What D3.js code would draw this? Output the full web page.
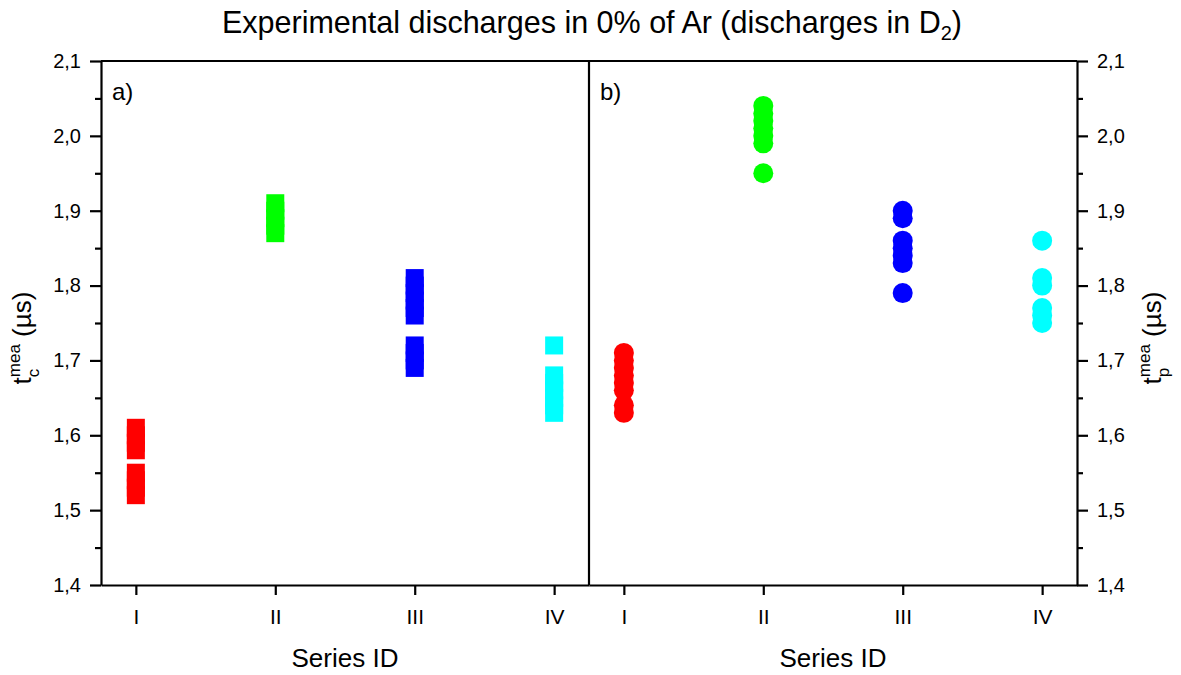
<!DOCTYPE html>
<html>
<head>
<meta charset="utf-8">
<script src="https://cdn.jsdelivr.net/npm/d3@7"></script>
<style>
  body { margin: 0; background: #fff; }
  svg { display: block; font-family: "Liberation Sans", Arial, sans-serif; }
  .axis path, .axis line { stroke: #000; stroke-width: 2.2; }
  .axis text { font-size: 20px; fill: #000; font-family: "Liberation Sans", Arial, sans-serif; }
  .xaxis text { font-size: 21px; }
</style>
</head>
<body>
<svg id="chart" width="1181" height="675"></svg>
<script>
/* ---------- data ---------- */
const seriesIds = ["I", "II", "III", "IV"];
const seriesColors = ["#ff0000", "#00ff00", "#0000ff", "#00ffff"];

// a) t_c^mea per series (µs)
const tcI   = [1.52, 1.53, 1.54, 1.55, 1.58, 1.59, 1.60, 1.61];
const tcII  = [1.87, 1.88, 1.89, 1.90, 1.91];
const tcIII = [1.69, 1.70, 1.71, 1.72, 1.76, 1.77, 1.78, 1.79, 1.80, 1.81];
const tcIV  = [1.63, 1.64, 1.65, 1.66, 1.67, 1.68, 1.72];

// b) t_p^mea per series (µs)
const tpI   = [1.63, 1.64, 1.66, 1.67, 1.68, 1.69, 1.70, 1.71];
const tpII  = [1.95, 1.99, 2.00, 2.01, 2.02, 2.03, 2.04];
const tpIII = [1.79, 1.83, 1.84, 1.85, 1.86, 1.89, 1.90];
const tpIV  = [1.75, 1.76, 1.77, 1.80, 1.81, 1.86];

const yTicks = [1.4, 1.5, 1.6, 1.7, 1.8, 1.9, 2.0, 2.1];

/* ---------- layout ---------- */
const svg = d3.select("#chart");
const plotTop = 61, plotBottom = 585;
const leftX = 101, midX = 589, rightX = 1077;

const y = d3.scaleLinear().domain([1.4, 2.1]).range([plotBottom, plotTop]);
const xA = d3.scaleLinear().domain([0.75, 4.25]).range([leftX, midX]);
const xB = d3.scaleLinear().domain([0.75, 4.25]).range([midX, rightX]);

const fmt = v => d3.format(".1f")(v).replace(".", ",");
const minorTicks = d3.range(1.45, 2.1, 0.1);

/* ---------- marks ---------- */
const tcSets = [tcI, tcII, tcIII, tcIV];
const tpSets = [tpI, tpII, tpIII, tpIV];

const SQ = 18;
tcSets.forEach((vals, i) => {
  svg.append("g").selectAll("rect")
    .data(vals)
    .join("rect")
    .attr("x", xA(i + 1) - SQ / 2)
    .attr("y", d => y(d) - SQ / 2)
    .attr("width", SQ)
    .attr("height", SQ)
    .attr("fill", seriesColors[i]);
});

tpSets.forEach((vals, i) => {
  svg.append("g").selectAll("circle")
    .data(vals)
    .join("circle")
    .attr("cx", xB(i + 1))
    .attr("cy", d => y(d))
    .attr("r", 10)
    .attr("fill", seriesColors[i]);
});

/* ---------- axes ---------- */
// minor ticks first
svg.append("g").attr("class", "axis")
  .attr("transform", `translate(${leftX},0)`)
  .call(d3.axisLeft(y).tickValues(minorTicks).tickSize(6).tickSizeOuter(0).tickFormat(""))
  .select(".domain").remove();
svg.append("g").attr("class", "axis")
  .attr("transform", `translate(${rightX},0)`)
  .call(d3.axisRight(y).tickValues(minorTicks).tickSize(6).tickSizeOuter(0).tickFormat(""))
  .select(".domain").remove();

svg.append("g").attr("class", "axis")
  .attr("transform", `translate(${leftX},0)`)
  .call(d3.axisLeft(y).tickValues(yTicks).tickSize(11).tickSizeOuter(0).tickPadding(9).tickFormat(fmt));
svg.append("g").attr("class", "axis")
  .attr("transform", `translate(${rightX},0)`)
  .call(d3.axisRight(y).tickValues(yTicks).tickSize(11).tickSizeOuter(0).tickPadding(9).tickFormat(fmt));

[xA, xB].forEach(x => {
  svg.append("g").attr("class", "axis xaxis")
    .attr("transform", `translate(0,${plotBottom})`)
    .call(d3.axisBottom(x).tickValues([1, 2, 3, 4]).tickSize(10).tickSizeOuter(0)
      .tickPadding(14).tickFormat((d, i) => seriesIds[i]));
});

// top border and panel divider
svg.append("line").attr("x1", leftX).attr("x2", rightX).attr("y1", plotTop).attr("y2", plotTop)
  .attr("stroke", "#000").attr("stroke-width", 2.2);
svg.append("line").attr("x1", midX).attr("x2", midX).attr("y1", plotTop).attr("y2", plotBottom)
  .attr("stroke", "#000").attr("stroke-width", 2.2);

/* ---------- text ---------- */
const title = svg.append("text")
  .attr("x", 592).attr("y", 33)
  .attr("text-anchor", "middle")
  .attr("font-size", 30.5);
title.append("tspan").text("Experimental discharges in 0% of Ar (discharges in D");
title.append("tspan").attr("font-size", 20).attr("dy", 7).text("2");
title.append("tspan").attr("dy", -7).text(")");

svg.append("text").attr("x", 112).attr("y", 100).attr("font-size", 24).text("a)");
svg.append("text").attr("x", 600).attr("y", 100).attr("font-size", 24).text("b)");

[xA, xB].forEach(x => {
  svg.append("text")
    .attr("x", (x.range()[0] + x.range()[1]) / 2)
    .attr("y", 667)
    .attr("text-anchor", "middle")
    .attr("font-size", 26)
    .text("Series ID");
});

function yLabel(xPos, sub) {
  const t = svg.append("text")
    .attr("transform", `translate(${xPos},338) rotate(-90)`)
    .attr("text-anchor", "middle")
    .attr("font-size", 26);
  t.append("tspan").text("t");
  const sup = t.append("tspan").attr("font-size", 17).attr("dy", -11).text("mea");
  const w = sup.node().getComputedTextLength();
  const subT = t.append("tspan").attr("font-size", 17).attr("dx", -w).attr("dy", 19).text(sub);
  const subW = subT.node().getComputedTextLength();
  t.append("tspan").attr("dx", w - subW).attr("dy", -8).text(" (\u00b5s)");
}
yLabel(31, "c");
yLabel(1161, "p");
</script>
</body>
</html>
